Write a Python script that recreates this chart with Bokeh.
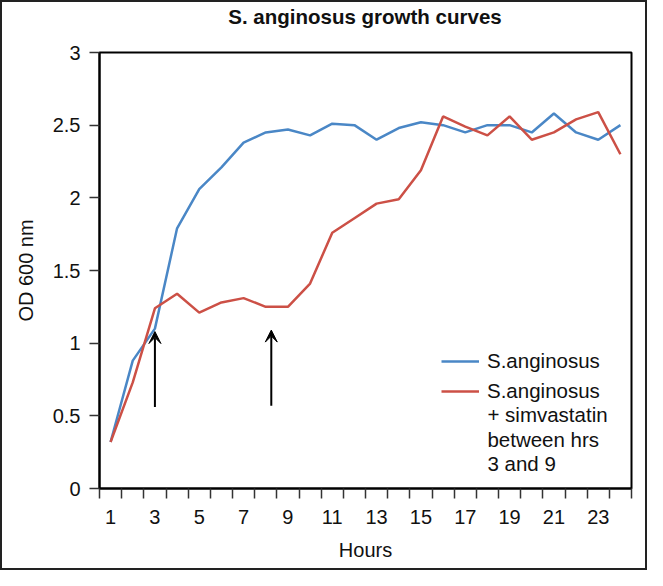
from bokeh.plotting import figure
from bokeh.layouts import column
from bokeh.models import (FixedTicker, Arrow, VeeHead, Legend, LegendItem, Range1d,
                          ColumnDataSource, Label, Div)
from bokeh.embed import file_html
from bokeh.resources import INLINE

# ---- data ----
hours = list(range(1, 25))
anginosus = [0.32, 0.88, 1.10, 1.79, 2.06, 2.21, 2.38, 2.45, 2.47, 2.43, 2.51, 2.50,
             2.40, 2.48, 2.52, 2.50, 2.45, 2.50, 2.50, 2.45, 2.58, 2.45, 2.40, 2.50]
simvastatin = [0.32, 0.73, 1.24, 1.34, 1.21, 1.28, 1.31, 1.25, 1.25, 1.41, 1.76, 1.86,
               1.96, 1.99, 2.19, 2.56, 2.49, 2.43, 2.56, 2.40, 2.45, 2.54, 2.59, 2.30]
x_label_ticks = [1, 3, 5, 7, 9, 11, 13, 15, 17, 19, 21, 23]
x_boundaries = [h - 0.5 for h in range(1, 26)]
y_ticks = [0, 0.5, 1, 1.5, 2, 2.5, 3]
arrow_hours = [3, 8.25]
arrow_start = [0.56, 0.57]
arrow_end = [1.08, 1.09]

title_text = "S. anginosus growth curves"
label_a = "S.anginosus"
label_b = "S.anginosus"
label_b_rest = "+ simvastatin\nbetween hrs\n3 and 9"
label_b_rest_pos = (18.0, 0.586)   # hours, OD (top-left of the text block)

FONT = "Liberation Sans"
BLUE = "#4a87c6"
RED = "#cc5046"

title_div = Div(
    text=(f'<div style="margin-left:97px;width:532px;text-align:center;'
          f'font-family:\'{FONT}\';font-size:20.5px;font-weight:bold;color:#111;'
          f'line-height:30px;white-space:nowrap;">{title_text}</div>'),
    width=643, height=30, margin=0)

p = figure(width=643, height=536, x_range=Range1d(0.5, 24.5), y_range=Range1d(0, 3),
           output_backend="svg", toolbar_location=None, margin=0,
           min_border_left=97, min_border_right=14, min_border_top=20, min_border_bottom=80)

p.grid.visible = False
p.outline_line_color = "black"
p.outline_line_width = 2
p.outline_line_alpha = 1

src = ColumnDataSource(dict(h=hours, a=anginosus, s=simvastatin))
r1 = p.line("h", "a", source=src, line_color=BLUE, line_width=2.5)
r2 = p.line("h", "s", source=src, line_color=RED, line_width=2.5)

for xh, y0, y1 in zip(arrow_hours, arrow_start, arrow_end):
    p.add_layout(Arrow(x_start=xh, y_start=y0, x_end=xh, y_end=y1, line_width=2,
                       line_color="black",
                       end=VeeHead(size=12, fill_color="black", line_color="black", line_width=1)))

# x axis
xa = p.xaxis[0]
xa.ticker = FixedTicker(ticks=x_label_ticks, minor_ticks=x_boundaries)
xa.major_tick_out = 0
xa.major_tick_in = 0
xa.minor_tick_out = 10
xa.minor_tick_in = 0
xa.minor_tick_line_color = "#333"
xa.minor_tick_line_width = 1.5
xa.axis_line_width = 2
xa.axis_line_color = "black"
xa.major_label_standoff = 11
xa.major_label_text_font = FONT
xa.major_label_text_font_size = "20px"
xa.major_label_text_color = "#111"
xa.axis_label = "Hours"
xa.axis_label_text_font = FONT
xa.axis_label_text_font_size = "20px"
xa.axis_label_text_font_style = "normal"
xa.axis_label_standoff = 12
xa.axis_label_text_color = "#111"

# y axis
ya = p.yaxis[0]
ya.ticker = FixedTicker(ticks=y_ticks, minor_ticks=[])
ya.major_tick_out = 10
ya.major_tick_in = 0
ya.major_tick_line_color = "#333"
ya.major_tick_line_width = 1.5
ya.axis_line_width = 2
ya.axis_line_color = "black"
ya.major_label_standoff = 9
ya.major_label_text_font = FONT
ya.major_label_text_font_size = "20px"
ya.major_label_text_color = "#111"
ya.axis_label = "OD 600 nm"
ya.axis_label_text_font = FONT
ya.axis_label_text_font_size = "20px"
ya.axis_label_text_font_style = "normal"
ya.axis_label_standoff = 13
ya.axis_label_text_color = "#111"

legend = Legend(items=[LegendItem(label=label_a, renderers=[r1]),
                       LegendItem(label=label_b, renderers=[r2])],
                location=(342, 85), padding=0, margin=0, spacing=6,
                border_line_alpha=0, background_fill_alpha=0,
                label_text_font=FONT, label_text_font_size="20.5px", label_text_color="#111",
                glyph_width=38, label_standoff=8)
p.add_layout(legend)

p.add_layout(Label(x=label_b_rest_pos[0], y=label_b_rest_pos[1], text=label_b_rest,
                   text_font=FONT, text_font_size="20.5px", text_color="#111",
                   text_baseline="top", text_align="left", text_line_height=1.06))

layout = column(title_div, p, spacing=0)
layout.styles = {"border": "2px solid #222", "background-color": "white"}

open("out.html", "w").write(file_html(layout, INLINE))
